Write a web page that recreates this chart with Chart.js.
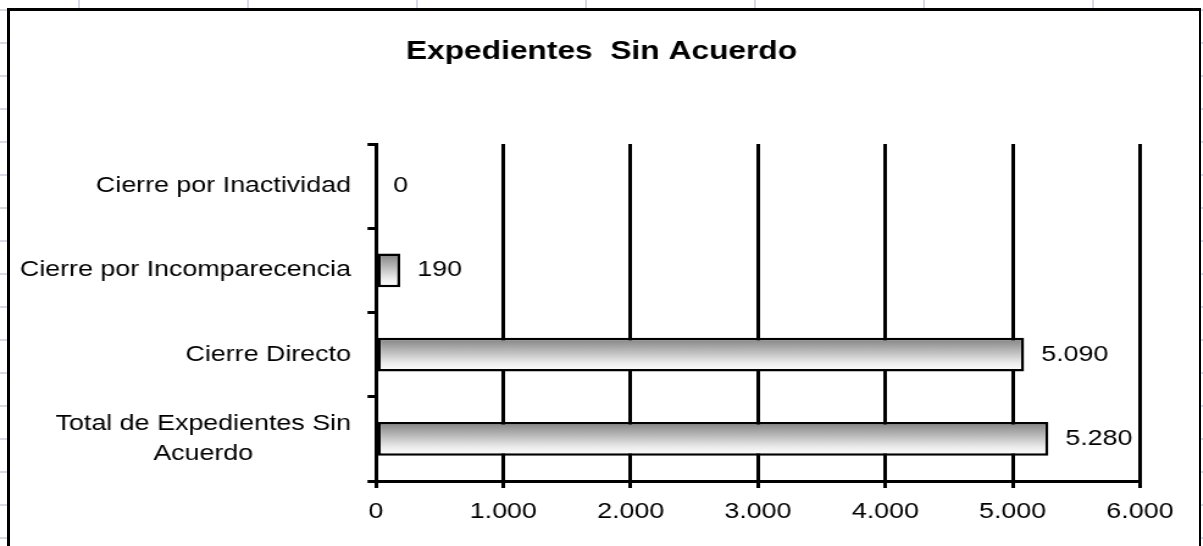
<!DOCTYPE html>
<html lang="es">
<head>
<meta charset="utf-8">
<title>Expedientes Sin Acuerdo</title>
<script src="https://cdn.jsdelivr.net/npm/chart.js@4/dist/chart.umd.min.js"></script>
<style>
  html, body { margin: 0; padding: 0; width: 1203px; height: 546px; overflow: hidden; }
  /* fondo de hoja de cálculo */
  body {
    background-color: #fff;
    background-image:
      linear-gradient(to right, #d3d9e5 2px, transparent 2px),
      linear-gradient(to bottom, #d3d9e5 2px, transparent 2px);
    background-size: 169px 100%, 100% 33px;
    background-position: 78px 0, 0 9px;
  }
  #box {
    position: absolute; left: 7px; top: 8px; width: 1189px; height: 600px;
    background: #fff; border-left: 3px solid #000; border-top: 3px solid #000; border-right: 2px solid #000;
  }
  /* el gráfico original está algo estirado en horizontal */
  #wrap {
    position: absolute; left: 0; top: 0; width: 986px; height: 546px;
    transform: scaleX(1.22); transform-origin: 0 0;
  }
</style>
</head>
<body>
<div id="box"></div>
<div id="wrap"><canvas id="grafico"></canvas></div>
<script>
// Datos
const categorias = [
  "Cierre por Inactividad",
  "Cierre por Incomparecencia",
  "Cierre Directo",
  ["Total de Expedientes Sin", "Acuerdo"]
];
const valores = [0, 190, 5090, 5280];
const ejeMin = 0;
const ejeMax = 6000;
const ejePaso = 1000;

const FUENTE = '"Liberation Sans", Arial, sans-serif';

// 5090 -> "5.090"
function formato(n) {
  return String(n).replace(/\B(?=(\d{3})+(?!\d))/g, ".");
}

// degradado gris -> blanco para cada barra
function relleno(c) {
  const chart = c.chart;
  const y = chart.scales.y;
  if (!y || c.dataIndex === undefined || !y.height) return "#c8c8c8";
  const centro = y.getPixelForValue(c.dataIndex);
  const mitad = (y.height / categorias.length) * 0.4 / 2;
  const g = chart.ctx.createLinearGradient(0, centro - mitad, 0, centro + mitad);
  g.addColorStop(0, "#808080");
  g.addColorStop(0.75, "#ececec");
  g.addColorStop(1, "#ffffff");
  return g;
}

// etiquetas de valor a la derecha de cada barra
const etiquetasValor = {
  id: "etiquetasValor",
  afterDatasetsDraw(chart) {
    const ctx = chart.ctx;
    const meta = chart.getDatasetMeta(0);
    ctx.save();
    ctx.font = "22px " + FUENTE;
    ctx.fillStyle = "#000";
    ctx.textAlign = "left";
    ctx.textBaseline = "middle";
    meta.data.forEach((barra, i) => {
      ctx.fillText(formato(valores[i]), barra.x + 14, barra.y);
    });
    ctx.restore();
  }
};

// etiquetas de categoría (la de dos líneas va centrada en sí misma)
const etiquetasCategoria = {
  id: "etiquetasCategoria",
  afterDraw(chart) {
    const ctx = chart.ctx;
    const y = chart.scales.y;
    const derecha = 287.7;
    const alto = 30;
    ctx.save();
    ctx.font = "22px " + FUENTE;
    ctx.fillStyle = "#000";
    ctx.textAlign = "center";
    ctx.textBaseline = "middle";
    categorias.forEach((cat, i) => {
      const lineas = Array.isArray(cat) ? cat : [cat];
      const ancho = Math.max(...lineas.map(l => ctx.measureText(l).width));
      const cx = derecha - ancho / 2;
      const y0 = y.getPixelForValue(i) - (lineas.length - 1) * alto / 2;
      lineas.forEach((l, k) => ctx.fillText(l, cx, y0 + k * alto));
    });
    ctx.restore();
  }
};

const ctx = document.getElementById("grafico").getContext("2d");
new Chart(ctx, {
  type: "bar",
  data: {
    labels: categorias,
    datasets: [{
      data: valores,
      backgroundColor: relleno,
      borderColor: "#000",
      borderWidth: c => (valores[c.dataIndex] === 0 ? 0 : 2.5),
      borderSkipped: false,
      barPercentage: 0.4,
      categoryPercentage: 1
    }]
  },
  options: {
    indexAxis: "y",
    responsive: true,
    maintainAspectRatio: false,
    animation: false,
    // márgenes iguales a ambos lados para que el título quede centrado
    layout: { padding: { left: 51.6, right: 51.6, top: 0, bottom: 0 } },
    scales: {
      x: {
        min: ejeMin,
        max: ejeMax,
        ticks: {
          stepSize: ejePaso,
          autoSkip: false,
          maxRotation: 0,
          padding: 11,
          color: "#000",
          font: { family: FUENTE, size: 22 },
          callback: v => formato(v)
        },
        grid: { color: "#000", lineWidth: 3, tickLength: 7, drawTicks: true },
        border: { display: true, color: "#000", width: 3 },
        afterFit(s) { s.height = 65; s.paddingLeft = 0; s.paddingRight = 0; }
      },
      y: {
        ticks: { display: false },
        grid: { color: "#000", lineWidth: 3, tickLength: 7, drawOnChartArea: false, drawTicks: true },
        border: { display: true, color: "#000", width: 3 },
        afterFit(s) { s.width = 256.6; s.paddingTop = 0; s.paddingBottom = 0; }
      }
    },
    plugins: {
      legend: { display: false },
      tooltip: { enabled: false },
      title: {
        display: true,
        text: "Expedientes  Sin Acuerdo",
        color: "#000",
        font: { family: FUENTE, size: 26, weight: "bold" },
        padding: { top: 36.5, bottom: 76.3 }
      }
    }
  },
  plugins: [etiquetasValor, etiquetasCategoria]
});
</script>
</body>
</html>
